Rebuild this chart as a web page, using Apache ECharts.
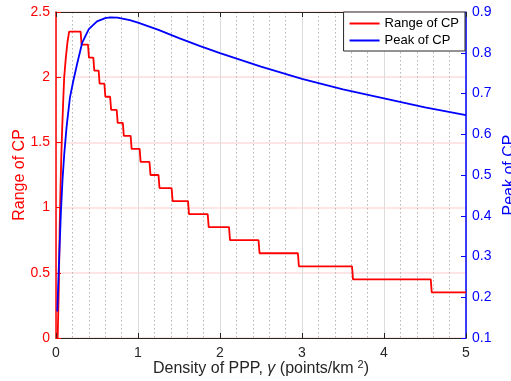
<!DOCTYPE html>
<html>
<head>
<meta charset="utf-8">
<script src="https://cdn.jsdelivr.net/npm/echarts@6/dist/echarts.min.js"></script>
<style>
  html, body { margin: 0; padding: 0; background: #fff; }
  #chart { width: 511px; height: 381px; }
</style>
</head>
<body>
<div id="chart"></div>
<script>
// Range of CP: initial rise, then staircase levels with the density at which each level ends
var rangeRiseX = [0.02, 0.035, 0.045, 0.055, 0.065, 0.075, 0.09, 0.10, 0.12, 0.14, 0.16];
var rangeRiseY = [0, 0.4, 0.85, 1.15, 1.4, 1.6, 1.85, 2.0, 2.15, 2.27, 2.35];
var rangeLevels = [2.35, 2.25, 2.15, 2.05, 1.95, 1.85, 1.75, 1.65, 1.55, 1.45, 1.35,
                   1.25, 1.15, 1.05, 0.95, 0.85, 0.75, 0.65, 0.55, 0.45, 0.35];
var rangeStepEnds = [0.30, 0.39, 0.455, 0.52, 0.59, 0.66, 0.74, 0.815, 0.91, 1.02, 1.14,
                     1.25, 1.41, 1.61, 1.85, 2.11, 2.47, 2.95, 3.61, 4.57, 5.0];

// Peak of CP versus density
var peakX = [0.016, 0.03, 0.045, 0.06, 0.08, 0.10, 0.13, 0.17, 0.21, 0.26, 0.32, 0.40,
             0.50, 0.60, 0.66, 0.75, 0.90, 1.00, 1.25, 1.50, 1.75, 2.00, 2.50, 3.00,
             3.50, 4.00, 4.50, 5.00];
var peakY = [0.165, 0.25, 0.33, 0.41, 0.49, 0.55, 0.62, 0.69, 0.73, 0.775, 0.825, 0.858,
             0.877, 0.885, 0.887, 0.886, 0.880, 0.874, 0.856, 0.836, 0.817, 0.799, 0.766, 0.736,
             0.710, 0.688, 0.666, 0.647];

var xTicks = { min: 0, max: 5, interval: 1 };
var leftTicks = { min: 0, max: 2.5, interval: 0.5 };
var rightTicks = { min: 0.1, max: 0.9, interval: 0.1 };

var rangeData = [];
for (var i = 0; i < rangeRiseX.length; i++) rangeData.push([rangeRiseX[i], rangeRiseY[i]]);
for (var j = 0; j < rangeLevels.length; j++) {
  if (j > 0) rangeData.push([rangeStepEnds[j - 1] + 0.012, rangeLevels[j]]);
  rangeData.push([rangeStepEnds[j], rangeLevels[j]]);
}
var peakData = peakX.map(function (x, k) { return [x, peakY[k]]; });

var FONT = 'Liberation Sans, Arial, Helvetica, sans-serif';
var DARK = '#262626';
var RED = '#ff0000';
var BLUE = '#0000ff';

var chart = echarts.init(document.getElementById('chart'), null, { renderer: 'canvas' });
chart.setOption({
  animation: false,
  textStyle: { fontFamily: FONT },
  grid: { left: 56, right: 45, top: 12, bottom: 43, containLabel: false, outerBoundsMode: 'none' },
  legend: {
    data: ['Range of CP', 'Peak of CP'],
    orient: 'vertical',
    right: 46,
    top: 12,
    backgroundColor: '#fff',
    borderColor: DARK,
    borderWidth: 1,
    padding: [5, 6, 4, 6],
    itemGap: 4,
    itemWidth: 30,
    itemHeight: 2,
    icon: 'rect',
    textStyle: { fontSize: 13, color: '#000', fontFamily: FONT }
  },
  xAxis: [
    {
      type: 'value', position: 'bottom',
      min: xTicks.min, max: xTicks.max, interval: xTicks.interval,
      axisLine: { show: true, onZero: false, lineStyle: { color: DARK, width: 1 } },
      axisTick: { show: true, inside: true, length: 5, lineStyle: { color: DARK } },
      axisLabel: { color: DARK, fontSize: 14, margin: 8, fontFamily: FONT },
      splitLine: { show: true, lineStyle: { color: '#dcdcdc', width: 1 } },
      minorTick: { show: false, splitNumber: 5 },
      minorSplitLine: { show: true, lineStyle: { color: '#b4b4b4', width: 1, type: [1.5, 2.5] } },
      name: 'Density of PPP, {g|γ} (points/km{sup|2})',
      nameLocation: 'middle',
      nameGap: 21,
      nameMoveOverlap: false,
      nameTextStyle: {
        color: DARK, fontSize: 16, fontFamily: FONT, verticalAlign: 'top',
        rich: {
          g: { fontSize: 16, fontFamily: FONT, color: DARK, fontStyle: 'italic' },
          sup: { fontSize: 11, fontFamily: FONT, color: DARK, padding: [0, 0, 9, 4] }
        }
      }
    },
    {
      type: 'value', position: 'top',
      min: xTicks.min, max: xTicks.max, interval: xTicks.interval,
      axisLine: { show: true, onZero: false, lineStyle: { color: DARK, width: 1 } },
      axisTick: { show: true, inside: true, length: 5, lineStyle: { color: DARK } },
      axisLabel: { show: false },
      splitLine: { show: false }
    }
  ],
  yAxis: [
    {
      type: 'value', position: 'left',
      min: leftTicks.min, max: leftTicks.max, interval: leftTicks.interval,
      axisLine: { show: true, onZero: false, lineStyle: { color: RED, width: 1.5 } },
      axisTick: { show: true, inside: true, length: 5, lineStyle: { color: RED } },
      axisLabel: { color: RED, fontSize: 14, margin: 6, fontFamily: FONT },
      splitLine: { show: true, lineStyle: { color: '#ffdcdc', width: 1.5 } },
      name: 'Range of CP',
      nameLocation: 'middle',
      nameGap: 28,
      nameMoveOverlap: false,
      nameTextStyle: { color: RED, fontSize: 16, fontFamily: FONT }
    },
    {
      type: 'value', position: 'right',
      min: rightTicks.min, max: rightTicks.max, interval: rightTicks.interval,
      axisLine: { show: true, onZero: false, lineStyle: { color: BLUE, width: 1.5 } },
      axisTick: { show: true, inside: true, length: 5, lineStyle: { color: BLUE } },
      axisLabel: { color: BLUE, fontSize: 14, margin: 6, fontFamily: FONT },
      splitLine: { show: false },
      name: 'Peak of CP',
      nameLocation: 'middle',
      nameRotate: 90,
      nameGap: 36,
      nameMoveOverlap: false,
      nameTextStyle: { color: BLUE, fontSize: 16, fontFamily: FONT }
    }
  ],
  series: [
    {
      name: 'Range of CP', type: 'line', xAxisIndex: 0, yAxisIndex: 0,
      data: rangeData, showSymbol: false, symbol: 'none',
      lineStyle: { color: RED, width: 1.8 }, itemStyle: { color: RED }, z: 3
    },
    {
      name: 'Peak of CP', type: 'line', xAxisIndex: 0, yAxisIndex: 1,
      data: peakData, showSymbol: false, symbol: 'none',
      lineStyle: { color: BLUE, width: 1.8 }, itemStyle: { color: BLUE }, z: 4
    }
  ]
});
</script>
</body>
</html>
